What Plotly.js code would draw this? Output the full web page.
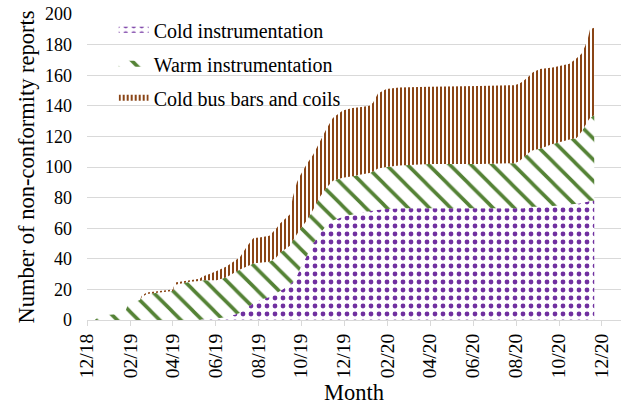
<!DOCTYPE html>
<html>
<head>
<meta charset="utf-8">
<script src="https://cdn.plot.ly/plotly-3.0.1.min.js"></script>
<style>
  html, body { margin: 0; padding: 0; background: #ffffff; }
  #chart { width: 626px; height: 405px; }
</style>
</head>
<body>
<div id="chart"></div>
<script>
// Dates of the readings (cumulative counts per category)
const dates = [
  '2018-12-01','2018-12-12','2018-12-20','2019-01-16','2019-01-24','2019-01-28',
  '2019-02-14','2019-02-17','2019-02-24','2019-03-14','2019-04-02','2019-04-05',
  '2019-04-26','2019-05-10','2019-05-14','2019-05-24','2019-06-03','2019-06-17',
  '2019-07-06','2019-07-16','2019-07-25','2019-08-03','2019-08-17','2019-08-27',
  '2019-09-01','2019-09-15','2019-09-19','2019-09-25','2019-09-29','2019-10-09',
  '2019-10-18','2019-10-27','2019-11-06','2019-11-15','2019-11-29','2019-12-13',
  '2019-12-23','2020-01-06','2020-01-11','2020-01-18','2020-01-30','2020-02-17',
  '2020-03-31','2020-06-10','2020-07-30','2020-08-06','2020-08-11','2020-08-21',
  '2020-08-25','2020-09-04','2020-09-22','2020-10-16','2020-10-26','2020-11-02',
  '2020-11-07','2020-11-11','2020-11-14','2020-11-20'
];

const coldInstrumentation = [
  0,0,0,0,0,0, 0,0,0,0,0,0, 0,0,0.5,1,1,2,
  4.5,8,11,13,15,17.5, 19,23,25,29,33,42,
  50,56,62,65,67.5,69, 70,71,71.5,72,72.5,73,
  73,73,73,73,73,73.5, 74,74,74.5,75.5,76,76.5,
  77,77.5,78,78
];

const warmInstrumentation = [
  0,0,3,4,5,10, 13,15,17,18,19,23, 25,25.5,25.5,25,25,26,
  28.5,27,26,24.5,23,23.5, 25,25.5,27,27,26,23,
  22,24,24.5,26,25.5,25, 25,25,25.5,27,27.5,28,
  29,29,29.5,31,33,36.5, 37,38,40.5,42.5,43,46.5,
  50,52.5,54,56
];

const coldBusBarsCoils = [
  0,0,0,0,0,0, 0,1,1,1,1,1.5, 1,1.5,2.5,4,6,7,
  8,13,16.5,16.5,17,19, 19,20.5,28,34,35,37,
  36,36,38.5,41,44,44.5, 44,44,45,49,51,51,
  50.5,51,51,50.5,50,50, 51,52,50,49.5,52,51,
  52,54,58,57
];

const seriesNames = ['Cold instrumentation', 'Warm instrumentation', 'Cold bus bars and coils'];

const FONT = 'Liberation Serif, Times New Roman, serif';

const traces = [
  {
    x: dates, y: coldInstrumentation, name: seriesNames[0],
    type: 'scatter', mode: 'none', stackgroup: 'nc', legendgroup: 'g1',
    fillcolor: '#ffffff',
    fillpattern: { shape: '.', fgcolor: '#7030a0', bgcolor: '#ffffff', size: 8, solidity: 0.28 },
    hoverinfo: 'x+y+name'
  },
  {
    x: dates, y: warmInstrumentation, name: seriesNames[1],
    type: 'scatter', mode: 'none', stackgroup: 'nc', legendgroup: 'g2',
    fillcolor: '#ffffff',
    fillpattern: { shape: '\\', fgcolor: '#548235', bgcolor: '#ffffff', size: 15, solidity: 0.24 },
    hoverinfo: 'x+y+name'
  },
  {
    x: dates, y: coldBusBarsCoils, name: seriesNames[2],
    type: 'scatter', mode: 'none', stackgroup: 'nc', legendgroup: 'g3',
    fillcolor: '#ffffff',
    fillpattern: { shape: '|', fgcolor: '#8a4516', bgcolor: '#ffffff', size: 4, solidity: 0.5 },
    hoverinfo: 'x+y+name'
  }
];

const layout = {
  width: 626,
  height: 405,
  margin: { l: 87, r: 5, t: 14, b: 85 },
  paper_bgcolor: '#ffffff',
  plot_bgcolor: '#ffffff',
  font: { family: FONT, color: '#000000', size: 18 },
  showlegend: true,
  legend: {
    x: 0.05, y: 1.012, xanchor: 'left', yanchor: 'top',
    bgcolor: 'rgba(0,0,0,0)',
    traceorder: 'grouped',
    tracegroupgap: 5,
    font: { family: FONT, size: 20, color: '#000000' }
  },
  xaxis: {
    type: 'date',
    range: ['2018-12-01', '2020-12-28'],
    tick0: '2018-12-01',
    dtick: 'M2',
    tickformat: '%m/%y',
    tickangle: -90,
    ticks: 'outside',
    ticklen: 5,
    tickcolor: '#d9d9d9',
    showline: true,
    linecolor: '#d9d9d9',
    linewidth: 1,
    showgrid: false,
    zeroline: false,
    automargin: false,
    tickfont: { family: FONT, size: 19.5, color: '#000000' },
    title: { text: 'Month', font: { family: FONT, size: 22.5, color: '#000000' }, standoff: 10 }
  },
  yaxis: {
    range: [0, 200],
    tick0: 0,
    dtick: 20,
    showgrid: true,
    gridcolor: '#d9d9d9',
    gridwidth: 1,
    zeroline: false,
    showline: false,
    ticks: '',
    ticklabelstandoff: 14,
    automargin: false,
    tickfont: { family: FONT, size: 18, color: '#000000' },
    title: { text: 'Number of non-conformity reports', font: { family: FONT, size: 22.5, color: '#000000' }, standoff: 4 }
  }
};

Plotly.newPlot('chart', traces, layout, { displayModeBar: false, staticPlot: true });
</script>
</body>
</html>
